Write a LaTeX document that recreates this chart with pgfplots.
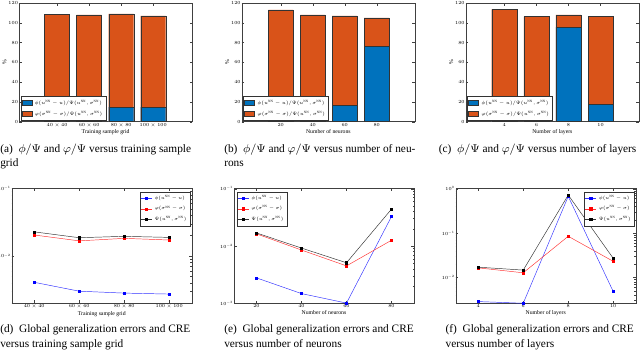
\RequirePackage{fix-cm}
\documentclass[border=0pt]{standalone}
\usepackage{fontspec}
\setmainfont{Liberation Serif}
\usepackage{amsmath}
\usepackage{pgfplots}
\pgfplotsset{compat=1.18}

\definecolor{mblue}{RGB}{0,114,189}
\definecolor{morange}{RGB}{217,83,25}

\pgfplotsset{
  common/.style={
    scale only axis, anchor=north west,
    tick align=inside,
    major tick length=2pt, minor tick length=1pt,
    axis line style={black!75, line width=0.3pt},
    every tick/.style={black!75, line width=0.25pt},
    tick label style={font=\fontsize{3.5}{4}\selectfont},
    yticklabel style={inner sep=0.6pt},
    xticklabel style={inner sep=1pt},
    label style={font=\fontsize{4.3}{5}\selectfont},
    xlabel style={yshift=2.5pt},
  },
  barax/.style={common,
    width=130pt, height=89pt,
    ymin=0, ymax=120, ytick={0,20,...,120}, ylabel={\%},
    every axis y label/.style={at={(axis description cs:-0.084,0.5)}, anchor=center, rotate=90,
      font=\fontsize{4.3}{5}\selectfont},
    legend style={at={(0,0)}, anchor=south west, xshift=1.2pt, yshift=0.75pt,
      font=\fontsize{3.6}{4.4}\selectfont, draw=black!80, line width=0.3pt,
      inner sep=0.6pt, row sep=-0.4pt, cells={anchor=west}},
  },
  barleg/.style={legend image code/.code={\draw[##1] (0pt,-1.9pt) rectangle (7.5pt,1.9pt);},
    draw=black!80, line width=0.3pt},
  barplot/.style={ybar, bar shift=0pt, draw=black!80, line width=0.3pt, forget plot},
  logax/.style={common,
    width=135pt, height=86pt,
    legend style={font=\fontsize{3.5}{4.2}\selectfont, draw=black!80, line width=0.3pt,
      inner sep=0.6pt, row sep=-0.6pt, cells={anchor=west}},
    legend image code/.code={\draw[##1, mark repeat=2, mark phase=2] plot coordinates {(0pt,0pt) (4pt,0pt) (8pt,0pt)};},
  },
  lb/.style={color=blue!80, line width=0.35pt, mark=square*, mark size=0.85pt, mark options={fill=blue, draw=blue}},
  lr/.style={color=red!80, line width=0.35pt, mark=square*, mark size=0.85pt, mark options={fill=red, draw=red}},
  lk/.style={color=black!80, line width=0.35pt, mark=square*, mark size=0.85pt, mark options={fill=black, draw=black}},
}

\newcommand{\capfont}{\fontsize{8.5}{10.5}\selectfont}
\newcommand{\NN}{\mathrm{NN}}

\begin{document}
\begin{tikzpicture}
\path[use as bounding box] (0,0) rectangle (480pt,-265.5pt);

% (a)
\begin{axis}[barax, at={(14.25pt,-2.25pt)},
  xmin=-0.19, xmax=5.22, xtick={1,2,3,4},
  xticklabels={$40\times40$,$60\times60$,$80\times80$,$100\times100$},
  xlabel={Training sample grid}]
\addlegendimage{barleg, fill=mblue}
\addlegendentry{$\phi(u^{\NN}-u)/\Psi(u^{\NN},\sigma^{\NN})$}
\addlegendimage{barleg, fill=morange}
\addlegendentry{$\varphi(\sigma^{\NN}-\sigma)/\Psi(u^{\NN},\sigma^{\NN})$}
\addplot[barplot, bar width=0.78, fill=morange] coordinates {(1,108.4) (2,107.9) (3,109.0) (4,107.0)};
\addplot[barplot, bar width=0.78, fill=mblue] coordinates {(1,17.8) (2,16.8) (3,14.8) (4,14.8)};
\end{axis}

% (b)
\begin{axis}[barax, at={(181.3pt,-2.25pt)},
  xmin=-4.4, xmax=104, xtick={20,40,60,80},
  xlabel={Number of neurons}]
\addlegendimage{barleg, fill=mblue}
\addlegendentry{$\phi(u^{\NN}-u)/\Psi(u^{\NN},\sigma^{\NN})$}
\addlegendimage{barleg, fill=morange}
\addlegendentry{$\varphi(\sigma^{\NN}-\sigma)/\Psi(u^{\NN},\sigma^{\NN})$}
\addplot[barplot, bar width=15.6, fill=morange] coordinates {(20,113.0) (40,108.0) (60,107.0) (80,105.0)};
\addplot[barplot, bar width=15.6, fill=mblue] coordinates {(20,16.8) (40,15.8) (60,16.8) (80,76.0)};
\end{axis}

% (c)
\begin{axis}[barax, at={(349.3pt,-2.25pt)},
  xmin=1.6, xmax=12.4, xtick={4,6,8,10},
  xlabel={Number of layers}]
\addlegendimage{barleg, fill=mblue}
\addlegendentry{$\phi(u^{\NN}-u)/\Psi(u^{\NN},\sigma^{\NN})$}
\addlegendimage{barleg, fill=morange}
\addlegendentry{$\varphi(\sigma^{\NN}-\sigma)/\Psi(u^{\NN},\sigma^{\NN})$}
\addplot[barplot, bar width=1.56, fill=morange] coordinates {(4,113.6) (6,106.2) (8,107.9) (10,106.2)};
\addplot[barplot, bar width=1.56, fill=mblue] coordinates {(4,16.8) (6,16.8) (8,95.5) (10,17.8)};
\end{axis}

% (d)
\begin{semilogyaxis}[logax, at={(8.8pt,-141.3pt)},
  xmin=0.5, xmax=4.5, xtick={1,2,3,4},
  xticklabels={$40\times40$,$60\times60$,$80\times80$,$100\times100$},
  ymin=2e-3, ymax=1e-1,
  xlabel={Training sample grid},
  legend style={at={(1,1)}, anchor=north east, xshift=-1.3pt, yshift=-2.5pt}]
\addplot[lb] coordinates {(1,4.06e-3) (2,3.0e-3) (3,2.81e-3) (4,2.72e-3)};
\addlegendentry{$\phi(u^{\NN}-u)$}
\addplot[lr] coordinates {(1,0.0204) (2,0.0167) (3,0.0182) (4,0.0172)};
\addlegendentry{$\varphi(\sigma^{\NN}-\sigma)$}
\addplot[lk] coordinates {(1,0.0227) (2,0.0186) (3,0.0195) (4,0.0188)};
\addlegendentry{$\Psi(u^{\NN},\sigma^{\NN})$}
\end{semilogyaxis}

% (e)
\begin{semilogyaxis}[logax, at={(175.5pt,-141.5pt)},
  xmin=10, xmax=90, xtick={20,40,60,80},
  ymin=1e-3, ymax=1e-1,
  xlabel={Number of neurons},
  legend style={at={(0,1)}, anchor=north west, xshift=2pt, yshift=-2.2pt}]
\addplot[lb] coordinates {(20,2.78e-3) (40,1.48e-3) (60,1.01e-3) (80,0.0327)};
\addlegendentry{$\phi(u^{\NN}-u)$}
\addplot[lr] coordinates {(20,0.0163) (40,8.5e-3) (60,4.5e-3) (80,0.0126)};
\addlegendentry{$\varphi(\sigma^{\NN}-\sigma)$}
\addplot[lk] coordinates {(20,0.0169) (40,9.2e-3) (60,5.1e-3) (80,0.044)};
\addlegendentry{$\Psi(u^{\NN},\sigma^{\NN})$}
\end{semilogyaxis}

% (f)
\begin{semilogyaxis}[logax, at={(341.8pt,-141.5pt)},
  xmin=3, xmax=11, xtick={4,6,8,10},
  ymin=2.6e-3, ymax=1,
  xlabel={Number of layers},
  legend style={at={(1,1)}, anchor=north east, xshift=-1pt, yshift=-2.2pt}]
\addplot[lb] coordinates {(4,2.85e-3) (6,2.61e-3) (8,0.67) (10,4.8e-3)};
\addlegendentry{$\phi(u^{\NN}-u)$}
\addplot[lr] coordinates {(4,0.0164) (6,0.0127) (8,0.0845) (10,0.023)};
\addlegendentry{$\varphi(\sigma^{\NN}-\sigma)$}
\addplot[lk] coordinates {(4,0.017) (6,0.0146) (8,0.72) (10,0.0269)};
\addlegendentry{$\Psi(u^{\NN},\sigma^{\NN})$}
\end{semilogyaxis}

% captions
\node[anchor=base west, inner sep=0pt, font=\capfont] at (0pt,-114.4pt) {(a)\enspace$\phi/\Psi$ and $\varphi/\Psi$ versus training sample};
\node[anchor=base west, inner sep=0pt, font=\capfont] at (0pt,-124.9pt) {grid};
\node[anchor=base west, inner sep=0pt, font=\capfont] at (168pt,-114.4pt) {(b)\enspace$\phi/\Psi$ and $\varphi/\Psi$ versus number of neu-};
\node[anchor=base west, inner sep=0pt, font=\capfont] at (168pt,-124.9pt) {rons};
\node[anchor=base west, inner sep=0pt, font=\capfont] at (329pt,-114.4pt) {(c)\enspace$\phi/\Psi$ and $\varphi/\Psi$ versus number of layers};
\node[anchor=base west, inner sep=0pt, font=\capfont] at (0pt,-249.4pt) {(d)\enspace Global generalization errors and CRE};
\node[anchor=base west, inner sep=0pt, font=\capfont] at (0pt,-260.3pt) {versus training sample grid};
\node[anchor=base west, inner sep=0pt, font=\capfont] at (168pt,-249.4pt) {(e)\enspace Global generalization errors and CRE};
\node[anchor=base west, inner sep=0pt, font=\capfont] at (168pt,-260.3pt) {versus number of neurons};
\node[anchor=base west, inner sep=0pt, font=\capfont] at (334pt,-249.4pt) {(f)\enspace Global generalization errors and CRE};
\node[anchor=base west, inner sep=0pt, font=\capfont] at (334pt,-260.3pt) {versus number of layers};
\end{tikzpicture}
\end{document}
